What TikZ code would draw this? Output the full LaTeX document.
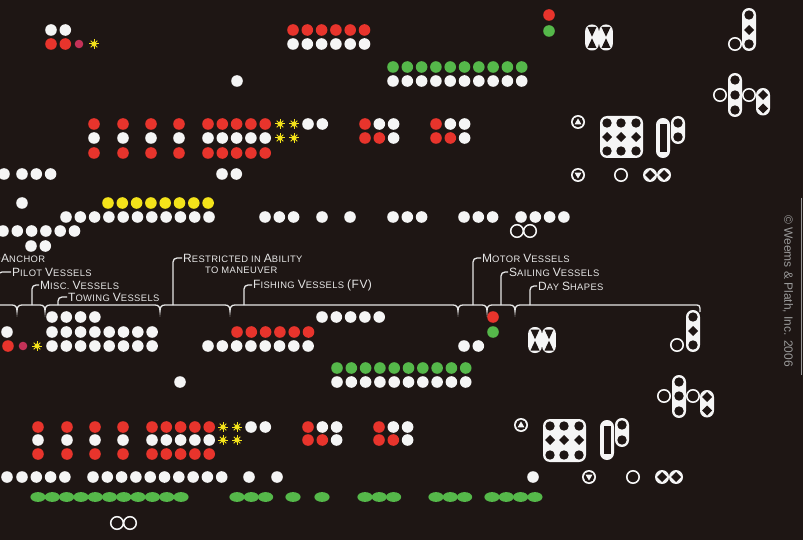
\documentclass[tikz,border=0pt]{standalone}
\usepackage{fontspec}
\setmainfont{Liberation Sans}
\newfontfamily\lblfont[LetterSpace=4]{Liberation Sans}
\usepackage{tikz}
\usetikzlibrary{calc}
\definecolor{wpnight}{HTML}{1E1614}
\definecolor{wpred}{HTML}{E8342C}
\definecolor{wpgreen}{HTML}{55B84A}
\definecolor{wpyellow}{HTML}{F4E31A}
\definecolor{wppink}{HTML}{C43258}
\definecolor{wpwhite}{HTML}{F5F5F5}
\definecolor{wptext}{HTML}{E6E6E6}
\definecolor{wpgrey}{HTML}{9A9A9A}

% small caps by hand
\newcommand{\capc}[1]{{\fontsize{12}{12}\selectfont #1}}
\newcommand{\lowc}[1]{{\fontsize{9.4}{9.4}\selectfont #1}}

% a row of n lamps: colour, first x, y, n
\newcommand{\lamprow}[4]{\foreach \i in {1,...,#4} \fill[#1] ({#2+14.3*(\i-1)},#3) circle (5.8pt);}
% a row of n green oval lamps: first x, y, n
\newcommand{\ovalrow}[3]{\foreach \i in {1,...,#3} \fill[wpgreen] ({#1+14.3*(\i-1)},#2) ellipse (7.6pt and 4.9pt);}
% yellow flashing light
\newcommand{\flare}[2]{\fill[wpyellow] (#1,#2) circle (2.6pt);
  \foreach \a in {0,45,...,315} \draw[wpyellow, line width=1pt] (#1,#2) -- ++(\a:4.6pt);}
% day shapes
\newcommand{\daycap}[3]{\fill[wpwhite, rounded corners=6.9pt] ({#1-7},{#2-7}) rectangle ({#1+7},{#3+7});}
\newcommand{\bhole}[2]{\fill[wpnight] (#1,#2) circle (4.7pt);}
\newcommand{\dhole}[2]{\fill[wpnight] (#1,{#2-5}) -- ({#1+5},#2) -- (#1,{#2+5}) -- ({#1-5},#2) -- cycle;}
\newcommand{\ringmark}[2]{\draw[wpwhite, line width=1.6pt] (#1,#2) circle (6.2pt);}
\newcommand{\hourglass}[2]{\fill[wpwhite, rounded corners=6.4pt] ({#1-6.8},{#2-13}) rectangle ({#1+6.8},{#2+13});
  \fill[wpnight] ({#1-4.5},{#2-10.5}) -- ({#1+4.5},{#2-10.5}) -- (#1,{#2-0.8}) -- cycle;
  \fill[wpnight] ({#1-4.5},{#2+10.5}) -- ({#1+4.5},{#2+10.5}) -- (#1,{#2+0.8}) -- cycle;}
\newcommand{\tricirc}[3]{\fill[wpwhite] (#1,#2) circle (7pt);
  \fill[wpnight] (#1,#2) circle (5.3pt);
  \fill[wpwhite] (#1,{#2-3.6*#3}) -- ({#1+3.4},{#2+2.3*#3}) -- ({#1-3.4},{#2+2.3*#3}) -- cycle;}
\newcommand{\infdiam}[2]{\fill[wpwhite] (#1,#2) circle (7pt) ({#1+14},#2) circle (7pt);
  \dhole{#1}{#2}\dhole{#1+14}{#2}}
\newcommand{\infring}[2]{\draw[wpwhite, line width=1.5pt] (#1,#2) circle (6.3pt) ({#1+13},#2) circle (6.3pt);}

\tikzset{
  lbl/.style={anchor=west, inner sep=1pt, text=wptext, font=\lblfont\fontsize{9.4}{9.4}\selectfont},
  lead/.style={draw=wptext, line width=1.3pt, rounded corners=4pt},
  bracepath/.style={draw=wptext, line width=1.3pt},
}

\begin{document}
\begin{tikzpicture}[x=1pt,y=-1pt]
    % board
    \fill[wpnight] (0,0) rectangle (803,540);
    \useasboundingbox (0,0) rectangle (803,540);
    \clip (0,0) rectangle (803,540);

    % upper chart: lights
    \lamprow{wpwhite}{51}{30}{2}
    \lamprow{wpred}{51}{44}{2}
    \fill[wppink] (79,44) circle (4.3pt);
    \flare{94}{44}
    \fill[wpwhite] (237,81) circle (5.8pt);
    \lamprow{wpred}{293}{30}{6}
    \lamprow{wpwhite}{293}{44}{6}
    \fill[wpred] (549,15) circle (5.8pt);
    \fill[wpgreen] (549,31) circle (5.8pt);
    \lamprow{wpgreen}{393}{67}{10}
    \lamprow{wpwhite}{393}{81}{10}
    \foreach \x in {94,123,151,179} {
        \fill[wpred] (\x,124) circle (5.8pt);
        \fill[wpwhite] (\x,138) circle (5.8pt);
        \fill[wpred] (\x,153) circle (5.8pt);
    }
    \lamprow{wpred}{208}{124}{5}
    \lamprow{wpwhite}{208}{138}{5}
    \lamprow{wpred}{208}{153}{5}
    \flare{280}{124}\flare{294}{124}\flare{280}{138}\flare{294}{138}
    \lamprow{wpwhite}{308}{124}{2}
    \foreach \x in {365,436} {
        \fill[wpred] (\x,124) circle (5.8pt);
        \lamprow{wpwhite}{\x+14.3}{124}{2}
        \lamprow{wpred}{\x}{138}{2}
        \fill[wpwhite] ({\x+28.6},138) circle (5.8pt);
    }
    \fill[wpwhite] (4,174) circle (5.8pt);
    \lamprow{wpwhite}{22}{174}{3}
    \lamprow{wpwhite}{222}{174}{2}
    \fill[wpwhite] (22,203) circle (5.8pt);
    \lamprow{wpyellow}{108}{203}{8}
    \lamprow{wpwhite}{66}{217}{11}
    \lamprow{wpwhite}{265}{217}{3}
    \fill[wpwhite] (322,217) circle (5.8pt) (350,217) circle (5.8pt);
    \lamprow{wpwhite}{393}{217}{3}
    \lamprow{wpwhite}{464}{217}{3}
    \lamprow{wpwhite}{521}{217}{4}
    \lamprow{wpwhite}{3}{231}{6}
    \infring{517}{231}
    \lamprow{wpwhite}{31}{246}{2}

    % upper chart: day shapes
    \hourglass{592}{37.5}\hourglass{606}{37.5}
    \daycap{749}{15}{44}\bhole{749}{15}\dhole{749}{30}\bhole{749}{44}
    \ringmark{735}{44}
    \daycap{735}{80}{110}\bhole{735}{80}\bhole{735}{95}\bhole{735}{110}
    \ringmark{720}{95}\ringmark{749}{95}
    \daycap{763}{95}{108.5}\dhole{763}{95}\dhole{763}{108.5}
    \tricirc{578}{122}{1}
    \tricirc{578}{175}{-1}
    \fill[wpwhite, rounded corners=7pt] (600,116) rectangle (643,158);
    \foreach \x in {607,621,636} {\bhole{\x}{123}\dhole{\x}{137}\bhole{\x}{151}}
    \daycap{663}{125}{151}
    \fill[wpnight] (659.5,124) rectangle (666.5,152);
    \daycap{678}{123}{137}\bhole{678}{123}\bhole{678}{137}
    \ringmark{621}{175}
    \infdiam{650}{175}

    % lower chart: lights
    \lamprow{wpwhite}{52}{317}{4}
    \lamprow{wpwhite}{322}{317}{5}
    \fill[wpred] (493,317) circle (5.8pt);
    \fill[wpwhite] (7,332) circle (5.8pt);
    \lamprow{wpwhite}{52}{332}{8}
    \lamprow{wpred}{237}{332}{6}
    \fill[wpgreen] (493,332) circle (5.8pt);
    \fill[wpred] (8,346) circle (5.8pt);
    \fill[wppink] (23,346) circle (4.3pt);
    \flare{37}{346}
    \lamprow{wpwhite}{52}{346}{8}
    \lamprow{wpwhite}{208}{346}{8}
    \lamprow{wpwhite}{464}{346}{2}
    \lamprow{wpgreen}{337}{368}{10}
    \lamprow{wpwhite}{337}{382}{10}
    \fill[wpwhite] (180,382) circle (5.8pt);
    \foreach \x in {38,67,95,123} {
        \fill[wpred] (\x,427) circle (5.8pt);
        \fill[wpwhite] (\x,440) circle (5.8pt);
        \fill[wpred] (\x,454) circle (5.8pt);
    }
    \lamprow{wpred}{152}{427}{5}
    \lamprow{wpwhite}{152}{440}{5}
    \lamprow{wpred}{152}{454}{5}
    \flare{223}{427}\flare{237}{427}\flare{223}{440}\flare{237}{440}
    \lamprow{wpwhite}{251}{427}{2}
    \foreach \x in {308,379} {
        \fill[wpred] (\x,427) circle (5.8pt);
        \lamprow{wpwhite}{\x+14.3}{427}{2}
        \lamprow{wpred}{\x}{440}{2}
        \fill[wpwhite] ({\x+28.6},440) circle (5.8pt);
    }
    \fill[wpwhite] (7,477) circle (5.8pt);
    \lamprow{wpwhite}{22}{477}{4}
    \lamprow{wpwhite}{93}{477}{10}
    \fill[wpwhite] (249,477) circle (5.8pt) (277,477) circle (5.8pt) (533,477) circle (5.8pt);
    \ovalrow{38}{497}{11}
    \ovalrow{237}{497}{3}
    \ovalrow{293}{497}{1}
    \ovalrow{322}{497}{1}
    \ovalrow{365}{497}{3}
    \ovalrow{436}{497}{3}
    \ovalrow{492}{497}{4}
    \infring{117}{523}

    % lower chart: day shapes
    \hourglass{535}{340}\hourglass{549}{340}
    \daycap{693}{317}{345}\bhole{693}{317}\dhole{693}{331}\bhole{693}{345}
    \ringmark{677}{345}
    \daycap{679}{382}{411}\bhole{679}{382}\bhole{679}{396}\bhole{679}{411}
    \ringmark{664}{396}\ringmark{693}{396}
    \daycap{707}{397}{410.5}\dhole{707}{397}\dhole{707}{410.5}
    \tricirc{521}{425}{1}
    \tricirc{589}{477}{-1}
    \fill[wpwhite, rounded corners=7pt] (543,419) rectangle (586,462);
    \foreach \x in {550,564,579} {\bhole{\x}{426}\dhole{\x}{440}\bhole{\x}{455}}
    \daycap{607}{427}{453}
    \fill[wpnight] (603.5,426) rectangle (610.5,454);
    \daycap{622}{425}{440}\bhole{622}{425}\bhole{622}{440}
    \ringmark{633}{477}
    \infdiam{662}{477}

    % group labels
    \node[lbl] (anchor) at (0,258) {\capc{A}\lowc{NCHOR}};
    \node[lbl] (pilot) at (11,272) {\capc{P}\lowc{ILOT} \capc{V}\lowc{ESSELS}};
    \node[lbl] (misc) at (39,285) {\capc{M}\lowc{ISC.} \capc{V}\lowc{ESSELS}};
    \node[lbl] (towing) at (67,297) {\capc{T}\lowc{OWING} \capc{V}\lowc{ESSELS}};
    \node[lbl] (restr) at (182,258) {\capc{R}\lowc{ESTRICTED IN} \capc{A}\lowc{BILITY}};
    \node[lbl] (restrb) at (204,270) {\lowc{TO MANEUVER}};
    \node[lbl] (fishing) at (252,285) {\capc{F}\lowc{ISHING} \capc{V}\lowc{ESSELS} \capc{(FV)}};
    \node[lbl] (motor) at (481,258) {\capc{M}\lowc{OTOR} \capc{V}\lowc{ESSELS}};
    \node[lbl] (sailing) at (508,272) {\capc{S}\lowc{AILING} \capc{V}\lowc{ESSELS}};
    \node[lbl] (day) at (537,286) {\capc{D}\lowc{AY} \capc{S}\lowc{HAPES}};

    % brace line
    \draw[bracepath] (-5,305) \foreach \t in {17,45,160,230,458,487,515} {
        -- ({\t-5},305) .. controls ({\t-1.5},305) and (\t,307) .. (\t,311)
        .. controls (\t,307) and ({\t+1.5},305) .. ({\t+5},305) }
        -- (694,305) .. controls (700,305) .. (700,312);
    \coordinate (fAnchor) at (-24,305);
    \coordinate (fPilot) at (-2,305);
    \coordinate (fMisc) at (32,305);
    \coordinate (fTowing) at (58,305);
    \coordinate (fRestr) at (173,305);
    \coordinate (fFishing) at (244,305);
    \coordinate (fMotor) at (473,305);
    \coordinate (fSailing) at (501,305);
    \coordinate (fDay) at (530,305);
    \draw[lead] (fAnchor) |- (anchor.west);
    \draw[lead] (fPilot) |- (pilot.west);
    \draw[lead] (fMisc) |- (misc.west);
    \draw[lead] (fTowing) |- (towing.west);
    \draw[lead] (fRestr) |- (restr.west);
    \draw[lead] (fFishing) |- (fishing.west);
    \draw[lead] (fMotor) |- (motor.west);
    \draw[lead] (fSailing) |- (sailing.west);
    \draw[lead] (fDay) |- (day.west);

    % copyright strip
    \node[rotate=-90, text=wpgrey, font=\fontsize{12}{12}\selectfont] (copy) at (788,291) {© Weems \& Plath, Inc. 2006};
    \draw[wpgrey, line width=1pt] (801.5,198) -- (801.5,375);
\end{tikzpicture}
\end{document}
